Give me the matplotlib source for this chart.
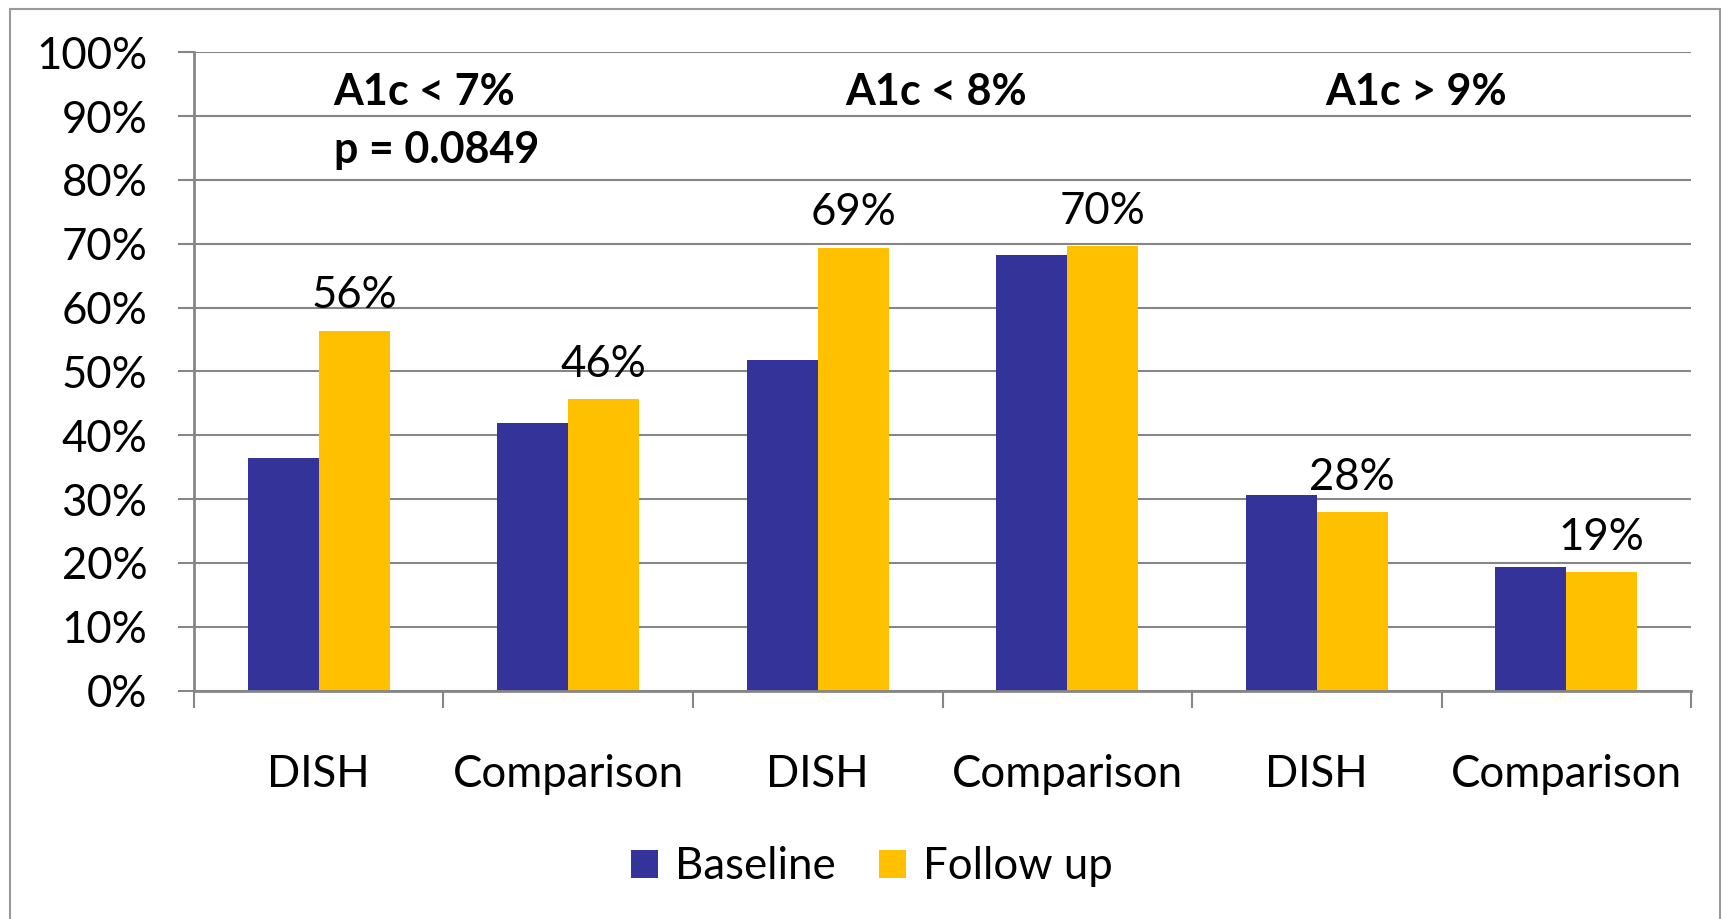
import matplotlib
import matplotlib.pyplot as plt
from matplotlib.patches import Rectangle
from matplotlib.ticker import PercentFormatter
import numpy as np

matplotlib.use('Agg')
plt.rcParams['font.family'] = ['Lato', 'DejaVu Sans']

categories = ['DISH', 'Comparison', 'DISH', 'Comparison', 'DISH', 'Comparison']
baseline = [0.364, 0.419, 0.518, 0.683, 0.306, 0.194]
follow_up = [0.564, 0.456, 0.694, 0.696, 0.280, 0.186]
group_titles = ['A1c < 7%', 'A1c < 8%', 'A1c > 9%']
p_value = 'p = 0.0849'

BLUE = '#333399'
GOLD = '#FFC000'
GREY = '#868686'
FS = 31.5
HEAD_FS = 31

fig = plt.figure(figsize=(17.27, 9.19), dpi=100)
ax = fig.add_axes([0.1123, 0.2486, 0.8669, 0.6945])

x = np.arange(len(categories))
w = 0.284
ax.bar(x - w / 2, baseline, w, color=BLUE, label='Baseline')
gold_bars = ax.bar(x + w / 2, follow_up, w, color=GOLD, label='Follow up')

# value labels only on the follow-up bars
for rect, v in zip(gold_bars, follow_up):
    ax.annotate(f'{v:.0%}', (rect.get_x() + rect.get_width() / 2, v),
                xytext=(0, 16), textcoords='offset points',
                ha='center', va='baseline', fontsize=FS)

ax.set_xlim(-0.5, len(categories) - 0.5)
ax.set_ylim(0, 1)
ax.set_yticks(np.arange(0, 1.01, 0.1))
ax.yaxis.set_major_formatter(PercentFormatter(1.0, decimals=0))
ax.yaxis.grid(True, color=GREY, lw=1.5)
ax.set_axisbelow(True)

for side in ('top', 'right'):
    ax.spines[side].set_visible(False)
for side in ('left', 'bottom'):
    ax.spines[side].set_color(GREY)
    ax.spines[side].set_linewidth(2)

# boundary ticks between categories, labels sit on minor ticks at the centres
ax.set_xticks(np.arange(-0.5, len(categories), 1))
ax.set_xticklabels([])
ax.set_xticks(x, minor=True)
ax.set_xticklabels(categories, minor=True, fontsize=FS)
ax.tick_params(axis='x', which='major', length=12, width=1.5, color=GREY)
ax.tick_params(axis='x', which='minor', length=0, pad=46)
ax.tick_params(axis='y', length=11.5, width=1.5, color=GREY, pad=22, labelsize=FS)

# group headings
ax.text(0.06, 0.918, group_titles[0], fontsize=HEAD_FS, fontweight='bold', ha='left', va='baseline')
ax.text(0.06, 0.826, p_value, fontsize=HEAD_FS, fontweight='bold', ha='left', va='baseline')
ax.text(2.473, 0.918, group_titles[1], fontsize=HEAD_FS, fontweight='bold', ha='center', va='baseline')
ax.text(4.396, 0.918, group_titles[2], fontsize=HEAD_FS, fontweight='bold', ha='center', va='baseline')

fig.legend(loc='center', bbox_to_anchor=(0.505, 0.0566), ncol=2, frameon=False,
           fontsize=FS, handlelength=0.6, handleheight=0.6,
           handletextpad=0.4, columnspacing=1.0)

# chart frame
fig.add_artist(Rectangle((0.0058, -0.02), 0.9902, 1.0102, transform=fig.transFigure,
                         fill=False, ec='#999999', lw=1.5))

fig.savefig('out.png', dpi=100)
